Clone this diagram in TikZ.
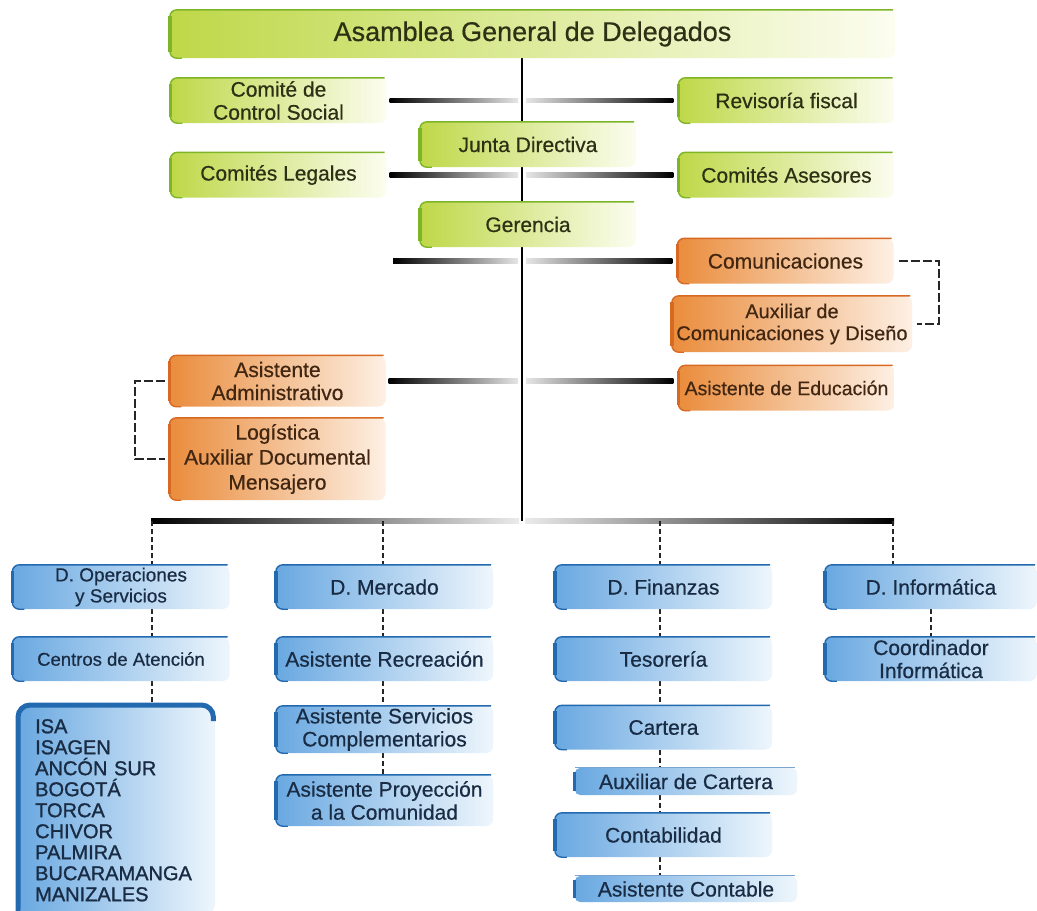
\documentclass[tikz,border=0pt]{standalone}
\usepackage{fontspec}
\setmainfont{Liberation Sans}
\newfontfamily\listfont{Liberation Sans}[FakeBold=1.2]
\newfontfamily\semifont{Liberation Sans}[FakeBold=0.5]
\usetikzlibrary{calc,backgrounds}
\definecolor{gL}{RGB}{190,216,72}
\definecolor{gR}{RGB}{252,253,240}
\definecolor{gE}{RGB}{125,180,40}
\definecolor{gT}{RGB}{45,48,20}
\definecolor{oL}{RGB}{234,140,60}
\definecolor{oR}{RGB}{253,240,228}
\definecolor{oE}{RGB}{215,105,35}
\definecolor{oT}{RGB}{65,38,18}
\definecolor{bL}{RGB}{105,168,225}
\definecolor{bR}{RGB}{238,246,252}
\definecolor{bE}{RGB}{35,105,175}
\definecolor{bT}{RGB}{25,44,68}
\newcommand\boxedge[2]{%
  \draw[#2,line width=1.4pt,rounded corners=7pt] ([xshift=-2pt]#1.north east) -- (#1.north west) -- (#1.south west) -- ([xshift=12pt]#1.south west);
  \draw[#2,line width=3.5pt] ([yshift=-6pt]#1.north west) -- ([yshift=6pt]#1.south west);}
\newcommand\fbar[4]{\shade[left color=#3, right color=#4] ($(#1)+(0,-2.2)$) rectangle ($(#2)+(0,2.2)$);}
\tikzset{
 box/.style={rounded corners=7pt, inner sep=0pt, align=center, font=\semifont\fontsize{21}{23}\selectfont},
 gbox/.style={box, left color=gL, right color=gR, text=gT, minimum width=216pt, minimum height=45pt},
 obox/.style={box, left color=oL, right color=oR, text=oT, minimum width=216pt, minimum height=45pt},
 bbox/.style={box, left color=bL, right color=bR, text=bT, minimum width=217pt, minimum height=44pt},
 trunk/.style={line width=2.5pt, black},
 dashc/.style={line width=2pt, black!85, dash pattern=on 5pt off 3pt},
}
\begin{document}
\begin{tikzpicture}[x=1pt,y=-1pt]
\useasboundingbox (0,0) rectangle (1037,911);
% green
\node[gbox, minimum width=725pt, minimum height=48pt, font=\semifont\fontsize{27}{30}\selectfont] (asam) at (532.5,34) {Asamblea General de Delegados};
\node[gbox] (ccs) at (278.5,100.5) {Comité de\\Control Social};
\node[gbox] (rev) at (786.5,100.5) {Revisoría fiscal};
\node[gbox] (jd) at (528,144.5) {Junta Directiva};
\node[gbox] (cl) at (278.5,175) {Comités Legales};
\node[gbox] (ca) at (786.5,175) {Comités Asesores};
\node[gbox] (ger) at (528,224.5) {Gerencia};
% orange
\node[obox] (com) at (785.5,261) {Comunicaciones};
\node[obox, minimum width=240pt, minimum height=56pt, font=\semifont\fontsize{20}{22}\selectfont] (acd) at (792,324) {Auxiliar de\\Comunicaciones y Diseño};
\node[obox, font=\semifont\fontsize{19.5}{22}\selectfont] (ae) at (786.5,388) {Asistente de Educación};
\node[obox, minimum height=51pt] (aa) at (277.5,381) {Asistente\\Administrativo};
\node[obox, minimum height=82pt, font=\semifont\fontsize{21}{25}\selectfont] (log) at (277.5,459) {Logística\\Auxiliar Documental\\Mensajero};
% blue
\node[bbox, font=\semifont\fontsize{19}{21}\selectfont] (dop) at (121,587) {D. Operaciones\\y Servicios};
\node[bbox] (dme) at (384.5,587) {D. Mercado};
\node[bbox] (dfi) at (663.5,587) {D. Finanzas};
\node[bbox, minimum width=212pt] (din) at (931,587) {D. Informática};
\node[bbox, font=\semifont\fontsize{18.5}{21}\selectfont] (cat) at (121,659) {Centros de Atención};
\node[bbox] (are) at (384.5,659) {Asistente Recreación};
\node[bbox] (tes) at (663.5,659) {Tesorería};
\node[bbox, minimum width=212pt] (coi) at (931,659) {Coordinador\\Informática};
\node[bbox, minimum height=47pt] (asc) at (384.5,729.5) {Asistente Servicios\\Complementarios};
\node[bbox, minimum height=51pt] (apc) at (384.5,800.5) {Asistente Proyección\\a la Comunidad};
\node[bbox] (car) at (663.5,727.5) {Cartera};
\node[bbox, minimum width=222pt, minimum height=27pt, rounded corners=5pt] (aux) at (686,781.5) {Auxiliar de Cartera};
\node[bbox] (con) at (663.5,835) {Contabilidad};
\node[bbox, minimum width=222pt, minimum height=26pt, rounded corners=5pt] (acon) at (686,889) {Asistente Contable};
\node[bbox, anchor=north west, minimum width=197pt, text width=163pt, align=left, inner ysep=14pt, rounded corners=12pt, font=\listfont\fontsize{20}{21}\selectfont] (list) at (18,705) {ISA\\ISAGEN\\ANCÓN SUR\\BOGOTÁ\\TORCA\\CHIVOR\\PALMIRA\\BUCARAMANGA\\MANIZALES};
% box edges
\foreach \n in {asam,ccs,rev,jd,cl,ca,ger} {\boxedge{\n}{gE}}
\foreach \n in {com,acd,ae,aa,log} {\boxedge{\n}{oE}}
\foreach \n in {dop,dme,dfi,din,cat,are,tes,coi,asc,apc,car,con} {\boxedge{\n}{bE}}
\foreach \n in {aux,acon} {\draw[bE,line width=3pt] ([yshift=-4pt]\n.north west) -- ([yshift=4pt]\n.south west);
  \draw[bE!60,line width=0.8pt] (\n.north west) -- ([xshift=-2pt]\n.north east);}
\draw[bE, line width=5pt, rounded corners=12pt] (list.south west) -- (list.north west) -- ([xshift=-2pt]list.north east) -- ([xshift=-2pt,yshift=-16pt]list.north east);
% connectors
\begin{scope}[on background layer]
\fill[white] (0,0) rectangle (1037,911);
\coordinate (tk) at (522,521);
\coordinate (c1) at (152,521);
\coordinate (c2) at (383,521);
\coordinate (c3) at (660,521);
\coordinate (c4) at (893,521);
\coordinate (gl) at (393,261);
\draw[trunk] (asam.south -| tk) -- (tk);
\fbar{[xshift=3pt]ccs.east}{[xshift=-4pt]ccs.east -| tk}{black}{black!10}
\fbar{[xshift=4pt]rev.west -| tk}{[xshift=-5pt]rev.west}{black!10}{black}
\fbar{[xshift=3pt]cl.east}{[xshift=-4pt]cl.east -| tk}{black}{black!10}
\fbar{[xshift=4pt]ca.west -| tk}{[xshift=-5pt]ca.west}{black!10}{black}
\fbar{gl}{[xshift=-4pt]gl -| tk}{black}{black!10}
\fbar{[xshift=4pt]com.west -| tk}{[xshift=-5pt]com.west}{black!10}{black}
\fbar{[xshift=3pt]aa.east}{[xshift=-4pt]aa.east -| tk}{black}{black!10}
\fbar{[xshift=4pt]aa.east -| tk}{[xshift=-5pt]aa.east -| ae.west}{black!10}{black}
\shade[left color=black, right color=black!8] ($(c1)+(-1,-2.6)$) rectangle ($(tk)+(-3,2.6)$);
\shade[left color=black!8, right color=black] ($(tk)+(3,-2.6)$) rectangle ($(c4)+(1,2.6)$);
\draw[dashc] (c1) -- (c1 |- dop.north);
\draw[dashc] (c2) -- (c2 |- dme.north);
\draw[dashc] (c3) -- (c3 |- dfi.north);
\draw[dashc] (c4) -- (c4 |- din.north);
\draw[dashc] (dop.south -| c1) -- (cat.north -| c1);
\draw[dashc] (cat.south -| c1) -- (list.north -| c1);
\draw[dashc] (dme.south -| c2) -- (are.north -| c2);
\draw[dashc] (are.south -| c2) -- (asc.north -| c2);
\draw[dashc] (asc.south -| c2) -- (apc.north -| c2);
\draw[dashc] (dfi.south -| c3) -- (tes.north -| c3);
\draw[dashc] (tes.south -| c3) -- (car.north -| c3);
\draw[dashc] (car.south -| c3) -- (aux.north -| c3);
\draw[dashc] (aux.south -| c3) -- (con.north -| c3);
\draw[dashc] (con.south -| c3) -- (acon.north -| c3);
\draw[dashc] (din.south) -- (coi.north);
\draw[dashc, dash pattern=on 9pt off 3pt] ([xshift=5pt]com.east) -- ++(40,0) |- ([xshift=5pt]acd.east);
\draw[dashc, dash pattern=on 9pt off 3pt] ([xshift=-4pt]aa.west) -- ++(-30,0) |- ([xshift=-4pt]log.west);
\end{scope}
\end{tikzpicture}
\end{document}
